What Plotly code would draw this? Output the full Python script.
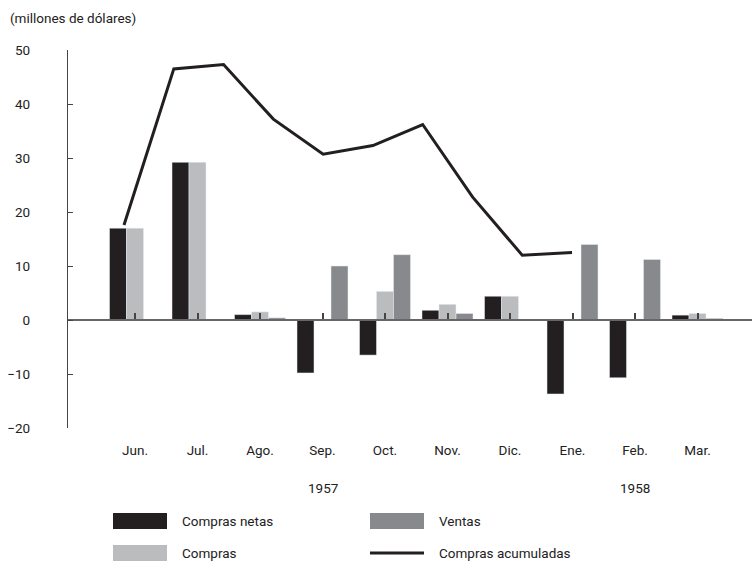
import plotly.graph_objects as go

meses = ["Jun.", "Jul.", "Ago.", "Sep.", "Oct.", "Nov.", "Dic.", "Ene.", "Feb.", "Mar."]
compras_netas = [17.0, 29.2, 1.0, -9.8, -6.5, 1.8, 4.4, -13.7, -10.7, 0.9]
compras = [17.0, 29.2, 1.5, 0.0, 5.3, 2.9, 4.4, 0.0, 0.0, 1.2]
ventas = [0.0, 0.0, 0.4, 10.0, 12.1, 1.2, 0.0, 14.0, 11.2, 0.3]
compras_acumuladas = [17.6, 46.5, 47.3, 37.2, 30.7, 32.3, 36.2, 22.8, 12.0, 12.5]
anios = ["1957", "1958"]
anio_pos = [3, 8]

FONT = "Liberation Sans Narrow, Roboto, sans-serif"
SIZE = 13.5
NEGRO = "#231f20"
GRIS_CLARO = "#bbbcbe"
GRIS = "#88898c"

idx = list(range(len(meses)))

fig = go.Figure()
fig.add_bar(x=idx, y=compras_netas, name="Compras netas", marker_color=NEGRO)
fig.add_bar(x=idx, y=compras, name="Compras", marker_color=GRIS_CLARO)
fig.add_bar(x=idx, y=ventas, name="Ventas", marker_color=GRIS)
fig.add_scatter(
    x=idx, y=compras_acumuladas, xaxis="x2", mode="lines",
    name="Compras acumuladas", line=dict(color=NEGRO, width=3),
)
# eje auxiliar: línea del cero con marcas en cada mes
fig.add_scatter(x=idx, y=[None] * len(idx), xaxis="x3", showlegend=False, hoverinfo="skip")

fig.update_layout(
    width=754, height=562,
    margin=dict(l=68, r=2, t=50, b=134),
    plot_bgcolor="white", paper_bgcolor="white",
    font=dict(family=FONT, size=SIZE, color="#222"),
    barmode="group", bargap=0.184, bargroupgap=0,
    showlegend=False,
    xaxis=dict(
        range=[-1.072, 9.872], tickvals=idx, ticktext=meses,
        showline=False, showgrid=False, zeroline=False, ticks="",
        ticklabelstandoff=12,
    ),
    xaxis2=dict(
        overlaying="x", range=[-1.125, 12.615], visible=False,
    ),
    xaxis3=dict(
        overlaying="x", anchor="free", position=20 / 70, side="bottom",
        range=[-1.072, 9.872], tickvals=idx, showticklabels=False,
        showline=True, linecolor="#666", linewidth=1.5,
        ticks="inside", ticklen=6, tickwidth=1.5, tickcolor="#444",
        showgrid=False, zeroline=False,
    ),
    yaxis=dict(
        range=[-20, 50], tickvals=list(range(-20, 51, 10)),
        showline=True, linecolor="#444", linewidth=1.2,
        ticks="inside", ticklen=5, tickcolor="#444",
        showgrid=False, zeroline=False, ticklabelstandoff=34,
    ),
)

fig.add_annotation(
    text="(millones de dólares)", xref="paper", yref="paper",
    x=-0.088, y=1.0, yshift=32, xanchor="left", yanchor="middle",
    showarrow=False, font=dict(size=SIZE),
)
for a, p in zip(anios, anio_pos):
    fig.add_annotation(
        text=a, xref="x", yref="paper", x=p, y=0, yshift=-60,
        showarrow=False, yanchor="middle", font=dict(size=SIZE),
    )

# leyenda a mano, con muestras anchas como en el original
leyenda = [
    ("Compras netas", NEGRO, "bar", 113, 521),
    ("Compras", GRIS_CLARO, "bar", 113, 553),
    ("Ventas", GRIS, "bar", 370, 521),
    ("Compras acumuladas", NEGRO, "line", 370, 553),
]
for texto, color, tipo, px0, py in leyenda:
    x0 = (px0 - 68) / 684
    x1 = (px0 + 54 - 68) / 684
    yc = (428 - py) / 378
    if tipo == "bar":
        fig.add_shape(
            type="rect", xref="paper", yref="paper", x0=x0, x1=x1,
            y0=yc - 8 / 378, y1=yc + 8 / 378, fillcolor=color, line_width=0,
        )
    else:
        fig.add_shape(
            type="line", xref="paper", yref="paper", x0=x0, x1=x1,
            y0=yc, y1=yc, line=dict(color=color, width=3),
        )
    fig.add_annotation(
        text=texto, xref="paper", yref="paper", x=(px0 + 67 - 68) / 684, y=yc,
        xanchor="left", yanchor="middle", showarrow=False, font=dict(size=SIZE),
    )

fig.write_html(
    "out.html",
    config={"displayModeBar": False},
    post_script="document.body.style.margin='0';",
)
